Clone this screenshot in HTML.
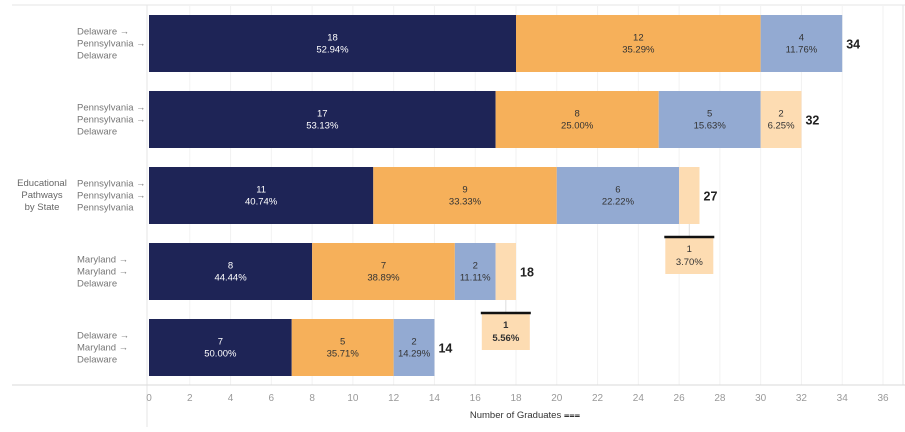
<!DOCTYPE html>
<html><head><meta charset="utf-8"><style>
body{margin:0;background:#fff;font-family:"Liberation Sans",sans-serif}
svg text{font-family:"Liberation Sans",sans-serif}
</style></head><body>
<svg id="c" width="905" height="427" xmlns="http://www.w3.org/2000/svg"></svg>
<script>
const categories=[["Delaware →","Pennsylvania →","Delaware"],["Pennsylvania →","Pennsylvania →","Delaware"],["Pennsylvania →","Pennsylvania →","Pennsylvania"],["Maryland →","Maryland →","Delaware"],["Delaware →","Maryland →","Delaware"]];
const seriesA=[18,17,11,8,7];
const seriesB=[12,8,9,7,5];
const seriesC=[4,5,6,2,2];
const seriesD=[0,2,1,1,0];
const pctA=["52.94%","53.13%","40.74%","44.44%","50.00%"];
const pctB=["35.29%","25.00%","33.33%","38.89%","35.71%"];
const pctC=["11.76%","15.63%","22.22%","11.11%","14.29%"];
const pctD=["","6.25%","3.70%","5.56%",""];
const ticks=[0,2,4,6,8,10,12,14,16,18,20,22,24,26,28,30,32,34,36];
const NS="http://www.w3.org/2000/svg";
const svg=document.getElementById('c');
const x=v=>149+v*(734/36);
const rowY=i=>15+i*76, BH=57;
function el(t,a,p){const e=document.createElementNS(NS,t);for(const k in a)e.setAttribute(k,a[k]);(p||svg).appendChild(e);return e;}
// frame
let e=el('line',{x1:12,y1:5,x2:905,y2:5,stroke:'#e6e6e6'});
e=el('line',{x1:147,y1:5,x2:147,y2:427,stroke:'#e6e6e6'});
e=el('line',{x1:903,y1:5,x2:903,y2:385,stroke:'#e6e6e6'});
ticks.forEach(t=>{
 if(t>0){const g=el('line',{x1:x(t),y1:5,x2:x(t),y2:385,stroke:'#f2f2f2'});}
 const tx=el('text',{x:x(t),y:401,'font-size':10,fill:'#999','text-anchor':'middle'});tx.textContent=t;
 
});
e=el('line',{x1:12,y1:385,x2:905,y2:385,stroke:'#d9d9d9'});
e=el('text',{x:525,y:418,'font-size':9.5,fill:'#333','text-anchor':'middle'});e.textContent='Number of Graduates ⩶';

e=el('text',{x:42,y:186,'font-size':9.5,fill:'#666','text-anchor':'middle'});
['Educational','Pathways','by State'].forEach((s,k)=>{const ts=el('tspan',{x:42,dy:k?12:0},e);ts.textContent=s;});

const colors=['#1e2456','#f6b05a','#93aad2','#fddcb2'];
const txtc=['#fff','#333','#333','#333'];
categories.forEach((c,i)=>{
 const y0=rowY(i);
 const lab=el('text',{x:77,y:y0+BH/2-9,'font-size':9.5,fill:'#777'});
 c.forEach((s,k)=>{const ts=el('tspan',{x:77,dy:k?12:0},lab);ts.textContent=s;});
 
 const vals=[seriesA[i],seriesB[i],seriesC[i],seriesD[i]];
 const pcts=[pctA[i],pctB[i],pctC[i],pctD[i]];
 let acc=0;
 vals.forEach((v,s)=>{
  if(!v)return;
  const r=el('rect',{x:x(acc),y:y0,width:x(acc+v)-x(acc),height:BH,fill:colors[s]});
  
  const cx=(x(acc)+x(acc+v))/2;
  if(v>1){
   const t=el('text',{x:cx,y:y0+BH/2-3,'font-size':9.5,fill:txtc[s],'text-anchor':'middle'});
   t.textContent=v;
   const t2=el('text',{x:cx,y:y0+BH/2+9,'font-size':9.5,fill:txtc[s],'text-anchor':'middle'});
   t2.textContent=pcts[s];
  } else {
   const by=y0+BH+13;
   const ln=el('line',{x1:cx,y1:y0+BH,x2:cx,y2:by,stroke:'#ddd'});
   const b=el('rect',{x:cx-24,y:by,width:48,height:37,fill:colors[s]});
   const tl=el('line',{x1:cx-25,y1:by,x2:cx+25,y2:by,stroke:'#111','stroke-width':2.5});
   const bold=i===3?'bold':'normal';
   const t=el('text',{x:cx,y:by+15,'font-size':9.5,fill:'#333','text-anchor':'middle','font-weight':bold});
   t.textContent=v;
   const t2=el('text',{x:cx,y:by+28,'font-size':9.5,fill:'#333','text-anchor':'middle','font-weight':bold});
   t2.textContent=pcts[s];
  }
  acc+=v;
 });
 const tot=el('text',{x:x(acc)+4,y:y0+BH/2+5,'font-size':12.5,'font-weight':'bold',fill:'#222'});
 tot.textContent=acc;
});
</script>
</body></html>
